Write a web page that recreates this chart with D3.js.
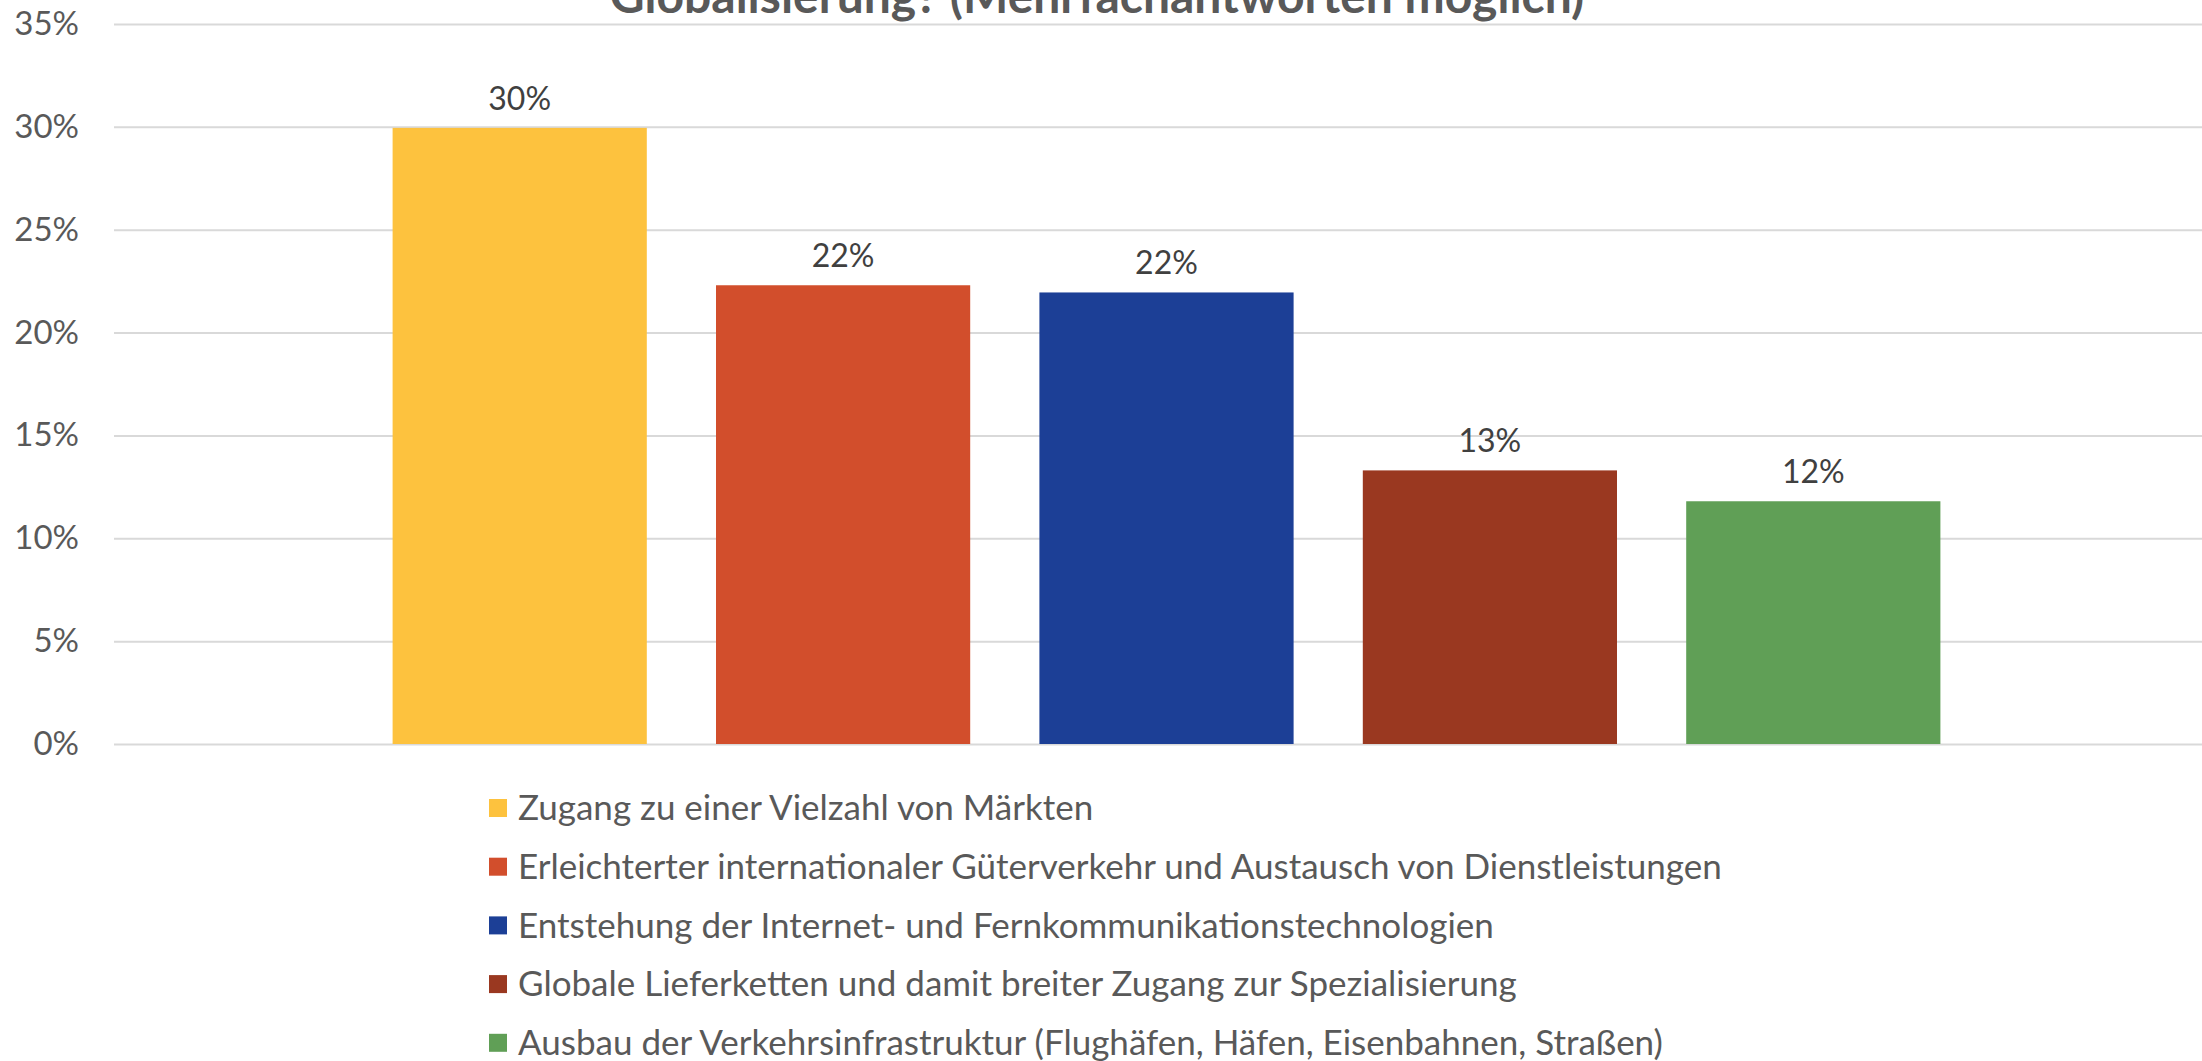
<!DOCTYPE html>
<html>
<head>
<meta charset="utf-8">
<script src="https://cdn.jsdelivr.net/npm/d3@7"></script>
<style>
  body { margin: 0; background: #fff; overflow: hidden; }
  svg { display: block; font-family: Lato, "Noto Sans", sans-serif; }
</style>
</head>
<body>
<div id="viz"></div>
<script>
// data
let categories = [
    "Zugang zu einer Vielzahl von Märkten",
    "Erleichterter internationaler Güterverkehr und Austausch von Dienstleistungen",
    "Entstehung der Internet- und Fernkommunikationstechnologien",
    "Globale Lieferketten und damit breiter Zugang zur Spezialisierung",
    "Ausbau der Verkehrsinfrastruktur (Flughäfen, Häfen, Eisenbahnen, Straßen)"
];
let values = [0.2995, 0.223, 0.2195, 0.133, 0.118];
let bar_colors = ["#FDC23E", "#D24E2C", "#1C3F96", "#9A3820", "#609F56"];
let y_ticks = [0, 0.05, 0.10, 0.15, 0.20, 0.25, 0.30, 0.35];
let title_text = "Globalisierung? (Mehrfachantworten möglich)";

let width = 2202, height = 1061;
let plot_left = 114, plot_right = 2202;
let plot_top = 24, plot_bottom = 744;

let svg = d3.select("#viz")
    .append("svg")
    .attr("width", width)
    .attr("height", height);

let x = d3.scaleBand()
    .domain(d3.range(categories.length))
    .range([358, 1975])
    .paddingInner(0.214)
    .paddingOuter(0.107);

let y = d3.scaleLinear()
    .domain([0, 0.35])
    .range([plot_bottom, plot_top]);

// gridlines + tick labels
let y_axis = d3.axisLeft(y)
    .tickValues(y_ticks)
    .tickFormat(d3.format(".0%"))
    .tickSize(-(plot_right - plot_left))
    .tickPadding(35);

let g_axis = svg.append("g")
    .attr("transform", "translate(" + plot_left + ",0)")
    .call(y_axis);
g_axis.select(".domain").remove();
g_axis.selectAll(".tick line")
    .attr("stroke", "#D9D9D9")
    .attr("stroke-width", 2);
g_axis.selectAll(".tick text")
    .attr("fill", "#595959")
    .style("font-size", "33px")
    .style("font-family", "Lato, sans-serif");

// title (top part is cut off in the original)
svg.append("text")
    .attr("x", 1097)
    .attr("y", 13)
    .attr("text-anchor", "middle")
    .attr("fill", "#595959")
    .style("font-size", "48px")
    .style("font-weight", "bold")
    .text(title_text);

// bars
svg.selectAll(".bar")
    .data(values)
    .enter()
    .append("rect")
    .attr("class", "bar")
    .attr("x", (d, i) => x(i))
    .attr("y", d => y(d))
    .attr("width", x.bandwidth())
    .attr("height", d => y(0) - y(d))
    .attr("fill", (d, i) => bar_colors[i]);

// value labels
svg.selectAll(".val")
    .data(values)
    .enter()
    .append("text")
    .attr("class", "val")
    .attr("x", (d, i) => x(i) + x.bandwidth() / 2)
    .attr("y", d => y(d) - 18)
    .attr("text-anchor", "middle")
    .attr("fill", "#404040")
    .style("font-size", "32px")
    .text(d => Math.round(d * 100) + "%");

// legend
let legend_x = 489, legend_y0 = 808, legend_step = 58.7;
let legend = svg.selectAll(".legend")
    .data(categories)
    .enter()
    .append("g")
    .attr("class", "legend")
    .attr("transform", (d, i) => "translate(" + legend_x + "," + (legend_y0 + i * legend_step) + ")");

legend.append("rect")
    .attr("x", 0)
    .attr("y", -9)
    .attr("width", 18)
    .attr("height", 18)
    .attr("fill", (d, i) => bar_colors[i]);

legend.append("text")
    .attr("x", 29)
    .attr("y", 0)
    .attr("dy", "0.35em")
    .attr("fill", "#595959")
    .style("font-size", "35px")
    .text(d => d);
</script>
</body>
</html>
